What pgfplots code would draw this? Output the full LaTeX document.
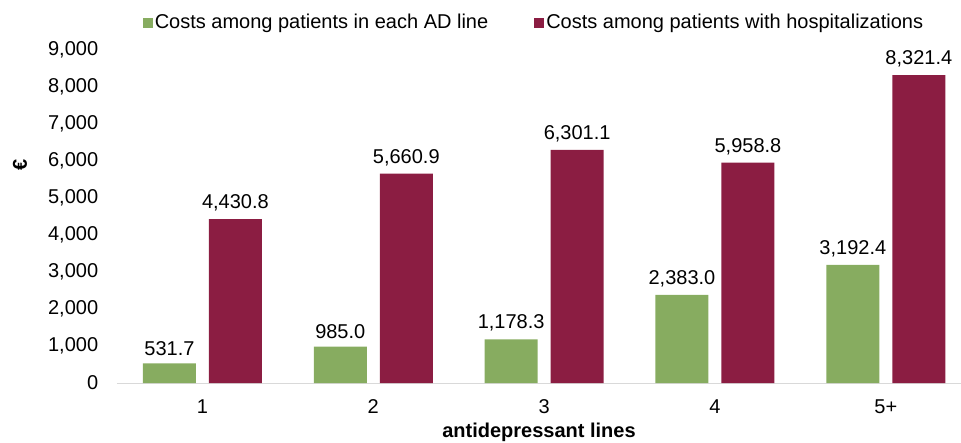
\documentclass[border=0pt]{standalone}
\usepackage{pgfplots}
\pgfplotsset{compat=1.18}
\usepackage{fontspec}
\setmainfont{Liberation Sans}

\definecolor{adgreen}{RGB}{135,172,96}
\definecolor{adred}{RGB}{139,29,66}
\definecolor{axgray}{RGB}{217,217,217}

\newcommand{\cf}{\fontsize{20bp}{24bp}\selectfont}

\begin{document}
\cf
\begin{tikzpicture}
\useasboundingbox (-117bp,-60bp) rectangle (844bp,383bp);
\begin{axis}[
    scale only axis,
    width=844bp, height=333bp,
    at={(0,0)}, anchor=south west,
    ybar, bar width=53bp,
    xmin=-0.5, xmax=4.44,
    ymin=0, ymax=9000,
    ytick={0,1000,...,9000},
    xtick={0,1,2,3,4},
    xticklabels={1,2,3,4,5+},
    major tick length=0pt,
    axis x line*=bottom,
    axis y line*=left,
    x axis line style={draw=axgray, line width=0.8bp, -},
    y axis line style={draw=none},
    /pgf/number format/assume math mode=true,
    /pgf/number format/1000 sep={,},
    yticklabel style={anchor=east, xshift=-12bp, font=\cf},
    xticklabel style={anchor=north, yshift=-10bp, font=\cf},
    xlabel={\textbf{antidepressant lines}},
    xlabel style={at={(axis description cs:0.5,0)}, anchor=center, yshift=-49bp, font=\cf},
    ylabel={\textbf{€}},
    ylabel style={at={(axis description cs:0,0.655)}, anchor=center, rotate=0, yshift=97bp, font=\cf},
    nodes near coords,
    nodes near coords style={font=\cf, anchor=south, yshift=1bp,
        /pgf/number format/.cd, fixed, fixed zerofill, precision=1, 1000 sep={,}, assume math mode=true},
    legend columns=2,
    legend style={draw=none, fill=none, at={(axis description cs:0.494,1)}, anchor=center, yshift=27bp,
        font=\cf, inner sep=0pt,
        /tikz/every even column/.append style={column sep=44bp}},
    legend image code/.code={\fill[#1] (0bp,-5bp) rectangle (10bp,5bp);},
]
\addplot[fill=adgreen, draw=none, bar shift=-33bp] coordinates {
    (0,531.7) (1,985.0) (2,1178.3) (3,2383.0) (4,3192.4)
};
\addplot[fill=adred, draw=none, bar shift=33bp] coordinates {
    (0,4430.8) (1,5660.9) (2,6301.1) (3,5958.8) (4,8321.4)
};
\legend{Costs among patients in each AD line, Costs among patients with hospitalizations}
\end{axis}
\end{tikzpicture}
\end{document}
